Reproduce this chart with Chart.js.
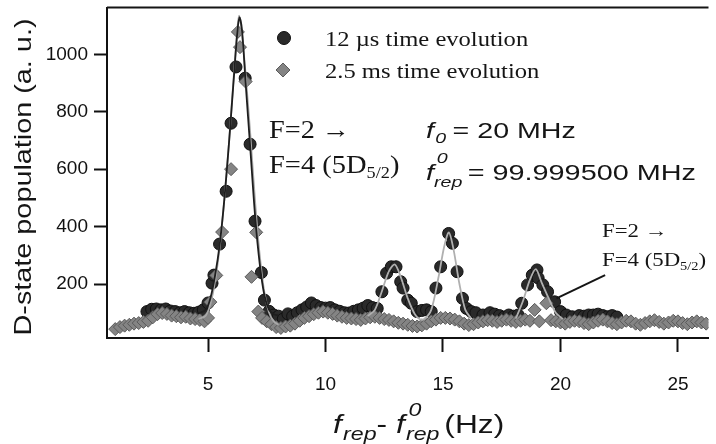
<!DOCTYPE html>
<html>
<head>
<meta charset="utf-8">
<script src="https://cdn.jsdelivr.net/npm/chart.js@4.4.1/dist/chart.umd.min.js"></script>
<style>
  html, body { margin: 0; padding: 0; background: #fff; }
  #wrap { width: 716px; height: 444px; }
</style>
</head>
<body>
<div id="wrap"><canvas id="chart_dstate" width="716" height="444"></canvas></div>
<script>
// ---- data ----
// 12 us time evolution (black circles)
var circleX = [2.4, 2.6, 2.8, 3.0, 3.2, 3.4, 3.6, 3.8, 4.0, 4.2, 4.4, 4.6, 4.8, 5.0, 5.17, 5.25, 5.49, 5.77, 5.98, 6.19,
  6.58, 6.79, 7.0, 7.27, 7.4, 7.6, 7.8, 8.0, 8.2, 8.4, 8.6, 8.8, 9.0, 9.2, 9.4, 9.6, 9.8, 10.0, 10.2, 10.4,
  10.6, 10.8, 11.0, 11.2, 11.4, 11.6, 11.8, 12.0, 12.2, 12.4, 12.6, 12.8, 13.0, 13.2, 13.3, 13.5, 13.65, 13.9, 14.1, 14.3,
  14.5, 14.7, 14.9, 15.24, 15.4, 15.6, 15.83, 16.0, 16.2, 16.4, 16.7, 17.0, 17.2, 17.4, 17.6, 17.8, 18.0, 18.2, 18.35, 18.6,
  18.8, 19.0, 19.05, 19.25, 19.45, 19.75, 20.0, 20.25, 20.5, 20.8, 21.0, 21.2, 21.4, 21.6, 21.8, 22.0, 22.2, 22.4];
var circleY = [104, 112, 113, 110, 113, 106, 104, 100, 104, 100, 98, 102, 110, 134, 203, 231, 339, 523, 760, 956,
  917, 687, 419, 240, 144, 105, 92, 88, 78, 96, 88, 100, 110, 120, 134, 125, 118, 116, 118, 110,
  105, 100, 99, 105, 110, 116, 125, 118, 115, 173, 238, 260, 260, 208, 186, 144, 133, 104, 108, 110,
  104, 186, 260, 376, 342, 243, 150, 115, 104, 100, 92, 100, 95, 90, 85, 92, 88, 92, 133, 197,
  231, 249, 221, 197, 173, 138, 104, 92, 86, 90, 88, 92, 92, 95, 90, 86, 90, 85];

// 2.5 ms time evolution (grey diamonds)
var diamondX = [1.05, 1.25, 1.45, 1.65, 1.85, 2.05, 2.25, 2.45, 2.65, 2.85, 3.05, 3.25, 3.45, 3.65, 3.85, 4.05, 4.25, 4.45, 4.65, 4.85,
  5.0, 5.1, 5.35, 5.6, 5.98, 6.27, 6.36, 6.6, 6.85, 7.05, 7.14, 7.3, 7.5, 7.7, 7.9, 8.1, 8.3, 8.5, 8.7, 8.9,
  9.1, 9.3, 9.5, 9.7, 9.9, 10.1, 10.3, 10.5, 10.7, 10.9, 11.1, 11.3, 11.5, 11.7, 11.9, 12.1, 12.3, 12.5, 12.7, 12.9,
  13.1, 13.3, 13.5, 13.7, 13.9, 14.1, 14.3, 14.5, 14.7, 14.9, 15.1, 15.3, 15.5, 15.7, 15.9, 16.1, 16.3, 16.5, 16.7, 16.9,
  17.1, 17.3, 17.5, 17.7, 17.9, 18.1, 18.3, 18.5, 18.7, 18.9, 19.1, 19.4, 19.6, 19.8, 20.0, 20.2, 20.4, 20.6, 20.8, 21.0,
  21.2, 21.4, 21.6, 21.8, 22.0, 22.2, 22.4, 22.6, 22.8, 23.0, 23.2, 23.4, 23.6, 23.8, 24.0, 24.2, 24.4, 24.6, 24.8, 25.0,
  25.2, 25.4, 25.6, 25.8, 26.0, 26.2];
var diamondY = [43, 50, 55, 58, 62, 64, 68, 72, 84, 95, 99, 96, 90, 88, 84, 86, 80, 78, 75, 70,
  82, 137, 230, 381, 600, 1078, 1025, 905, 225, 380, 104, 82, 70, 60, 50, 47, 52, 55, 62, 72,
  82, 88, 95, 100, 104, 100, 96, 90, 86, 82, 80, 78, 75, 80, 84, 86, 82, 78, 75, 70,
  65, 62, 58, 54, 52, 56, 62, 70, 76, 82, 82, 80, 76, 70, 62, 57, 60, 66, 70, 74,
  72, 68, 72, 76, 72, 68, 72, 76, 72, 110, 70, 133, 74, 70, 66, 62, 68, 72, 70, 64,
  60, 66, 72, 76, 70, 64, 60, 66, 72, 70, 62, 58, 64, 70, 74, 68, 62, 66, 72, 70,
  64, 60, 66, 70, 66, 62];

// fitted curves
var fitDarkX = [4.6, 4.9, 5.1, 5.3, 5.5, 5.7, 5.9, 6.1, 6.25, 6.34, 6.45, 6.6, 6.8, 7.0, 7.2, 7.4, 7.6, 7.8, 8.0];
var fitDarkY = [98, 110, 150, 230, 340, 500, 700, 920, 1080, 1129, 1080, 900, 670, 440, 270, 160, 110, 95, 90];
var fitLightX = [4.6, 4.9, 5.1, 5.3, 5.5, 5.7, 5.9, 6.1, 6.25, 6.32, 6.42, 6.6, 6.8, 7.0, 7.2, 7.4, 7.6, 7.8, 8.0];
var fitLightY = [78, 90, 130, 210, 330, 500, 700, 930, 1090, 1135, 1090, 930, 720, 490, 300, 170, 100, 70, 58];
var fitSmallX = [11.8, 12.1, 12.4, 12.7, 12.95, 13.2, 13.5, 13.8, 14.0, 14.2, 14.5, 14.8, 15.05, 15.25, 15.45, 15.7, 15.95, 16.2,
  16.3, 18.1, 18.4, 18.7, 18.95, 19.2, 19.5, 19.8, 20.1];
var fitSmallY = [88, 110, 175, 245, 268, 225, 150, 95, 78, 78, 110, 220, 330, 380, 320, 200, 110, 80,
  null, 80, 140, 215, 252, 205, 150, 100, 78];

var xTickValues = [5, 10, 15, 20, 25];
var yTickValues = [200, 400, 600, 800, 1000];

function pts(xs, ys) {
  return xs.map(function(x, i) { return {x: x, y: ys[i]}; });
}

// draws a run of text pieces [text, font, dy, extraGap], stretched sideways by sx
function drawRich(ctx, x, y, parts, sx) {
  sx = sx || 1;
  ctx.save();
  ctx.translate(x, y);
  ctx.scale(sx, 1);
  ctx.textBaseline = 'alphabetic';
  ctx.textAlign = 'left';
  var cx = 0;
  parts.forEach(function(p) {
    ctx.font = p[1];
    ctx.fillText(p[0], cx + (p[4] || 0), p[2] || 0);
    if (!p[5]) cx += ctx.measureText(p[0]).width + (p[3] || 0);
  });
  ctx.restore();
}

var SANS = 'Liberation Sans, Arial, sans-serif';
var SERIF = 'Liberation Serif, Times New Roman, serif';

var chart_dstate = new Chart(document.getElementById('chart_dstate'), {
    type: 'line',
    data: {
        datasets: [
            {
                label: 'fit 12 us',
                data: pts(fitDarkX, fitDarkY),
                borderColor: '#1e1e1e',
                borderWidth: 1.8,
                pointRadius: 0,
                tension: 0.3,
                order: 0
            },
            {
                label: 'fit 2.5 ms',
                data: pts(fitLightX, fitLightY),
                borderColor: '#a8a8a8',
                borderWidth: 1.8,
                pointRadius: 0,
                tension: 0.3,
                order: 0
            },
            {
                label: 'fit small peaks',
                data: pts(fitSmallX, fitSmallY),
                borderColor: '#b0b0b0',
                borderWidth: 1.8,
                pointRadius: 0,
                tension: 0.3,
                spanGaps: false,
                order: 0
            },
            {
                label: '2.5 ms time evolution',
                data: pts(diamondX, diamondY),
                showLine: false,
                pointStyle: 'rectRot',
                pointRadius: 6.5,
                pointBackgroundColor: '#848484',
                pointBorderColor: '#5a5a5a',
                pointBorderWidth: 1,
                order: 1
            },
            {
                label: '12 us time evolution',
                data: pts(circleX, circleY),
                showLine: false,
                pointStyle: 'circle',
                pointRadius: 6,
                pointBackgroundColor: '#2a2a2a',
                pointBorderColor: '#111',
                pointBorderWidth: 1,
                order: 2
            }
        ]
    },
    options: {
        animation: false,
        responsive: false,
        layout: { padding: { top: 7, right: 0, left: 0, bottom: 0 } },
        plugins: {
            legend: { display: false },
            tooltip: { enabled: false }
        },
        scales: {
            x: {
                type: 'linear',
                min: 0.7,
                max: 26.3,
                afterBuildTicks: function(scale) {
                    scale.ticks = xTickValues.map(function(v) { return {value: v}; });
                },
                afterFit: function(scale) {
                    scale.height = 106;
                    scale.paddingLeft = 0;
                    scale.paddingRight = 0;
                },
                ticks: {
                    autoSkip: false,
                    maxRotation: 0,
                    padding: 21,
                    color: '#111',
                    font: { family: SANS, size: 19 },
                    callback: function(value) { return String(value); }
                },
                grid: {
                    drawOnChartArea: false,
                    drawTicks: true,
                    tickLength: 14,
                    tickWidth: 2,
                    tickColor: '#111'
                },
                border: { display: true, color: '#111', width: 2 }
            },
            y: {
                type: 'linear',
                min: 12,
                max: 1163,
                afterBuildTicks: function(scale) {
                    scale.ticks = yTickValues.map(function(v) { return {value: v}; });
                },
                afterFit: function(scale) {
                    scale.width = 107;
                    scale.paddingTop = 0;
                    scale.paddingBottom = 0;
                },
                ticks: {
                    autoSkip: false,
                    padding: 6,
                    color: '#111',
                    font: { family: SANS, size: 19 },
                    callback: function(value) { return String(value); }
                },
                grid: {
                    drawOnChartArea: false,
                    drawTicks: true,
                    tickLength: 13,
                    tickWidth: 2,
                    tickColor: '#111'
                },
                border: { display: true, color: '#111', width: 2 }
            }
        }
    },
    plugins: [{
        id: 'whiteBackground',
        beforeDraw: function(chart) {
            var ctx = chart.ctx;
            ctx.save();
            ctx.fillStyle = 'white';
            ctx.fillRect(0, 0, chart.width, chart.height);
            ctx.restore();
        }
    }, {
        id: 'figureText',
        afterDraw: function(chart) {
            var ctx = chart.ctx;
            var a = chart.chartArea;
            var xs = chart.scales.x, ys = chart.scales.y;
            ctx.save();

            // top frame line
            ctx.strokeStyle = '#151515';
            ctx.lineWidth = 2;
            ctx.beginPath();
            ctx.moveTo(a.left, a.top);
            ctx.lineTo(a.right, a.top);
            ctx.stroke();

            // legend markers
            ctx.fillStyle = '#2a2a2a';
            ctx.strokeStyle = '#111';
            ctx.lineWidth = 1;
            ctx.beginPath();
            ctx.arc(284, 38, 6.5, 0, Math.PI * 2);
            ctx.fill(); ctx.stroke();
            ctx.fillStyle = '#848484';
            ctx.strokeStyle = '#5a5a5a';
            ctx.beginPath();
            ctx.moveTo(283, 63); ctx.lineTo(290, 70); ctx.lineTo(283, 77); ctx.lineTo(276, 70); ctx.closePath();
            ctx.fill(); ctx.stroke();

            ctx.fillStyle = '#151515';
            drawRich(ctx, 325, 46, [['12 \u00b5s time evolution', '21px ' + SERIF]], 1.17);
            drawRich(ctx, 325, 78, [['2.5 ms time evolution', '21px ' + SERIF]], 1.17);

            // transition label near main peak
            drawRich(ctx, 269, 138, [['F=2 \u2192', '25px ' + SERIF]], 1.13);
            drawRich(ctx, 269, 173, [['F=4 (5D', '25px ' + SERIF], ['5/2', '16px ' + SERIF, 5], [')', '25px ' + SERIF]], 1.14);

            // parameters
            drawRich(ctx, 426, 138, [['f', 'italic 22px ' + SANS, 0, 1], ['0', 'italic 15px ' + SANS, 5, 5], ['= 20 MHz', '22px ' + SANS]], 1.3);
            drawRich(ctx, 426, 180, [['f', 'italic 22px ' + SANS, 0, 0], ['0', 'italic 15px ' + SANS, -17, 0, 2, true],
                ['rep', 'italic 15px ' + SANS, 7, 4], ['= 99.999500 MHz', '22px ' + SANS]], 1.31);

            // transition label for right peak
            drawRich(ctx, 602, 237, [['F=2 \u2192', '19px ' + SERIF]], 1.2);
            drawRich(ctx, 602, 266, [['F=4 (5D', '19px ' + SERIF], ['5/2', '12px ' + SERIF, 4], [')', '19px ' + SERIF]], 1.2);

            // pointer line to the third peak
            ctx.strokeStyle = '#151515';
            ctx.lineWidth = 2;
            ctx.beginPath();
            ctx.moveTo(xs.getPixelForValue(21.9), ys.getPixelForValue(231));
            ctx.lineTo(xs.getPixelForValue(19.83), ys.getPixelForValue(150));
            ctx.stroke();

            // y axis title
            ctx.save();
            ctx.translate(31, 177);
            ctx.rotate(-Math.PI / 2);
            ctx.scale(1.2, 1);
            ctx.font = '24px ' + SANS;
            ctx.textAlign = 'center';
            ctx.textBaseline = 'alphabetic';
            ctx.fillText('D-state population (a. u.)', 0, 0);
            ctx.restore();

            // x axis title: f_rep - f^0_rep (Hz)
            drawRich(ctx, 333, 433, [
                ['f', 'italic 26px ' + SANS, 0, 1],
                ['rep', 'italic 19px ' + SANS, 7, 0],
                ['- ', '26px ' + SANS, 0, 0],
                ['f', 'italic 26px ' + SANS, 0, 1],
                ['0', 'italic 19px ' + SANS, -17, 0, 2, true],
                ['rep', 'italic 19px ' + SANS, 7, 4],
                ['(Hz)', '26px ' + SANS]
            ], 1.22);

            ctx.restore();
        }
    }]
});
</script>
</body>
</html>
